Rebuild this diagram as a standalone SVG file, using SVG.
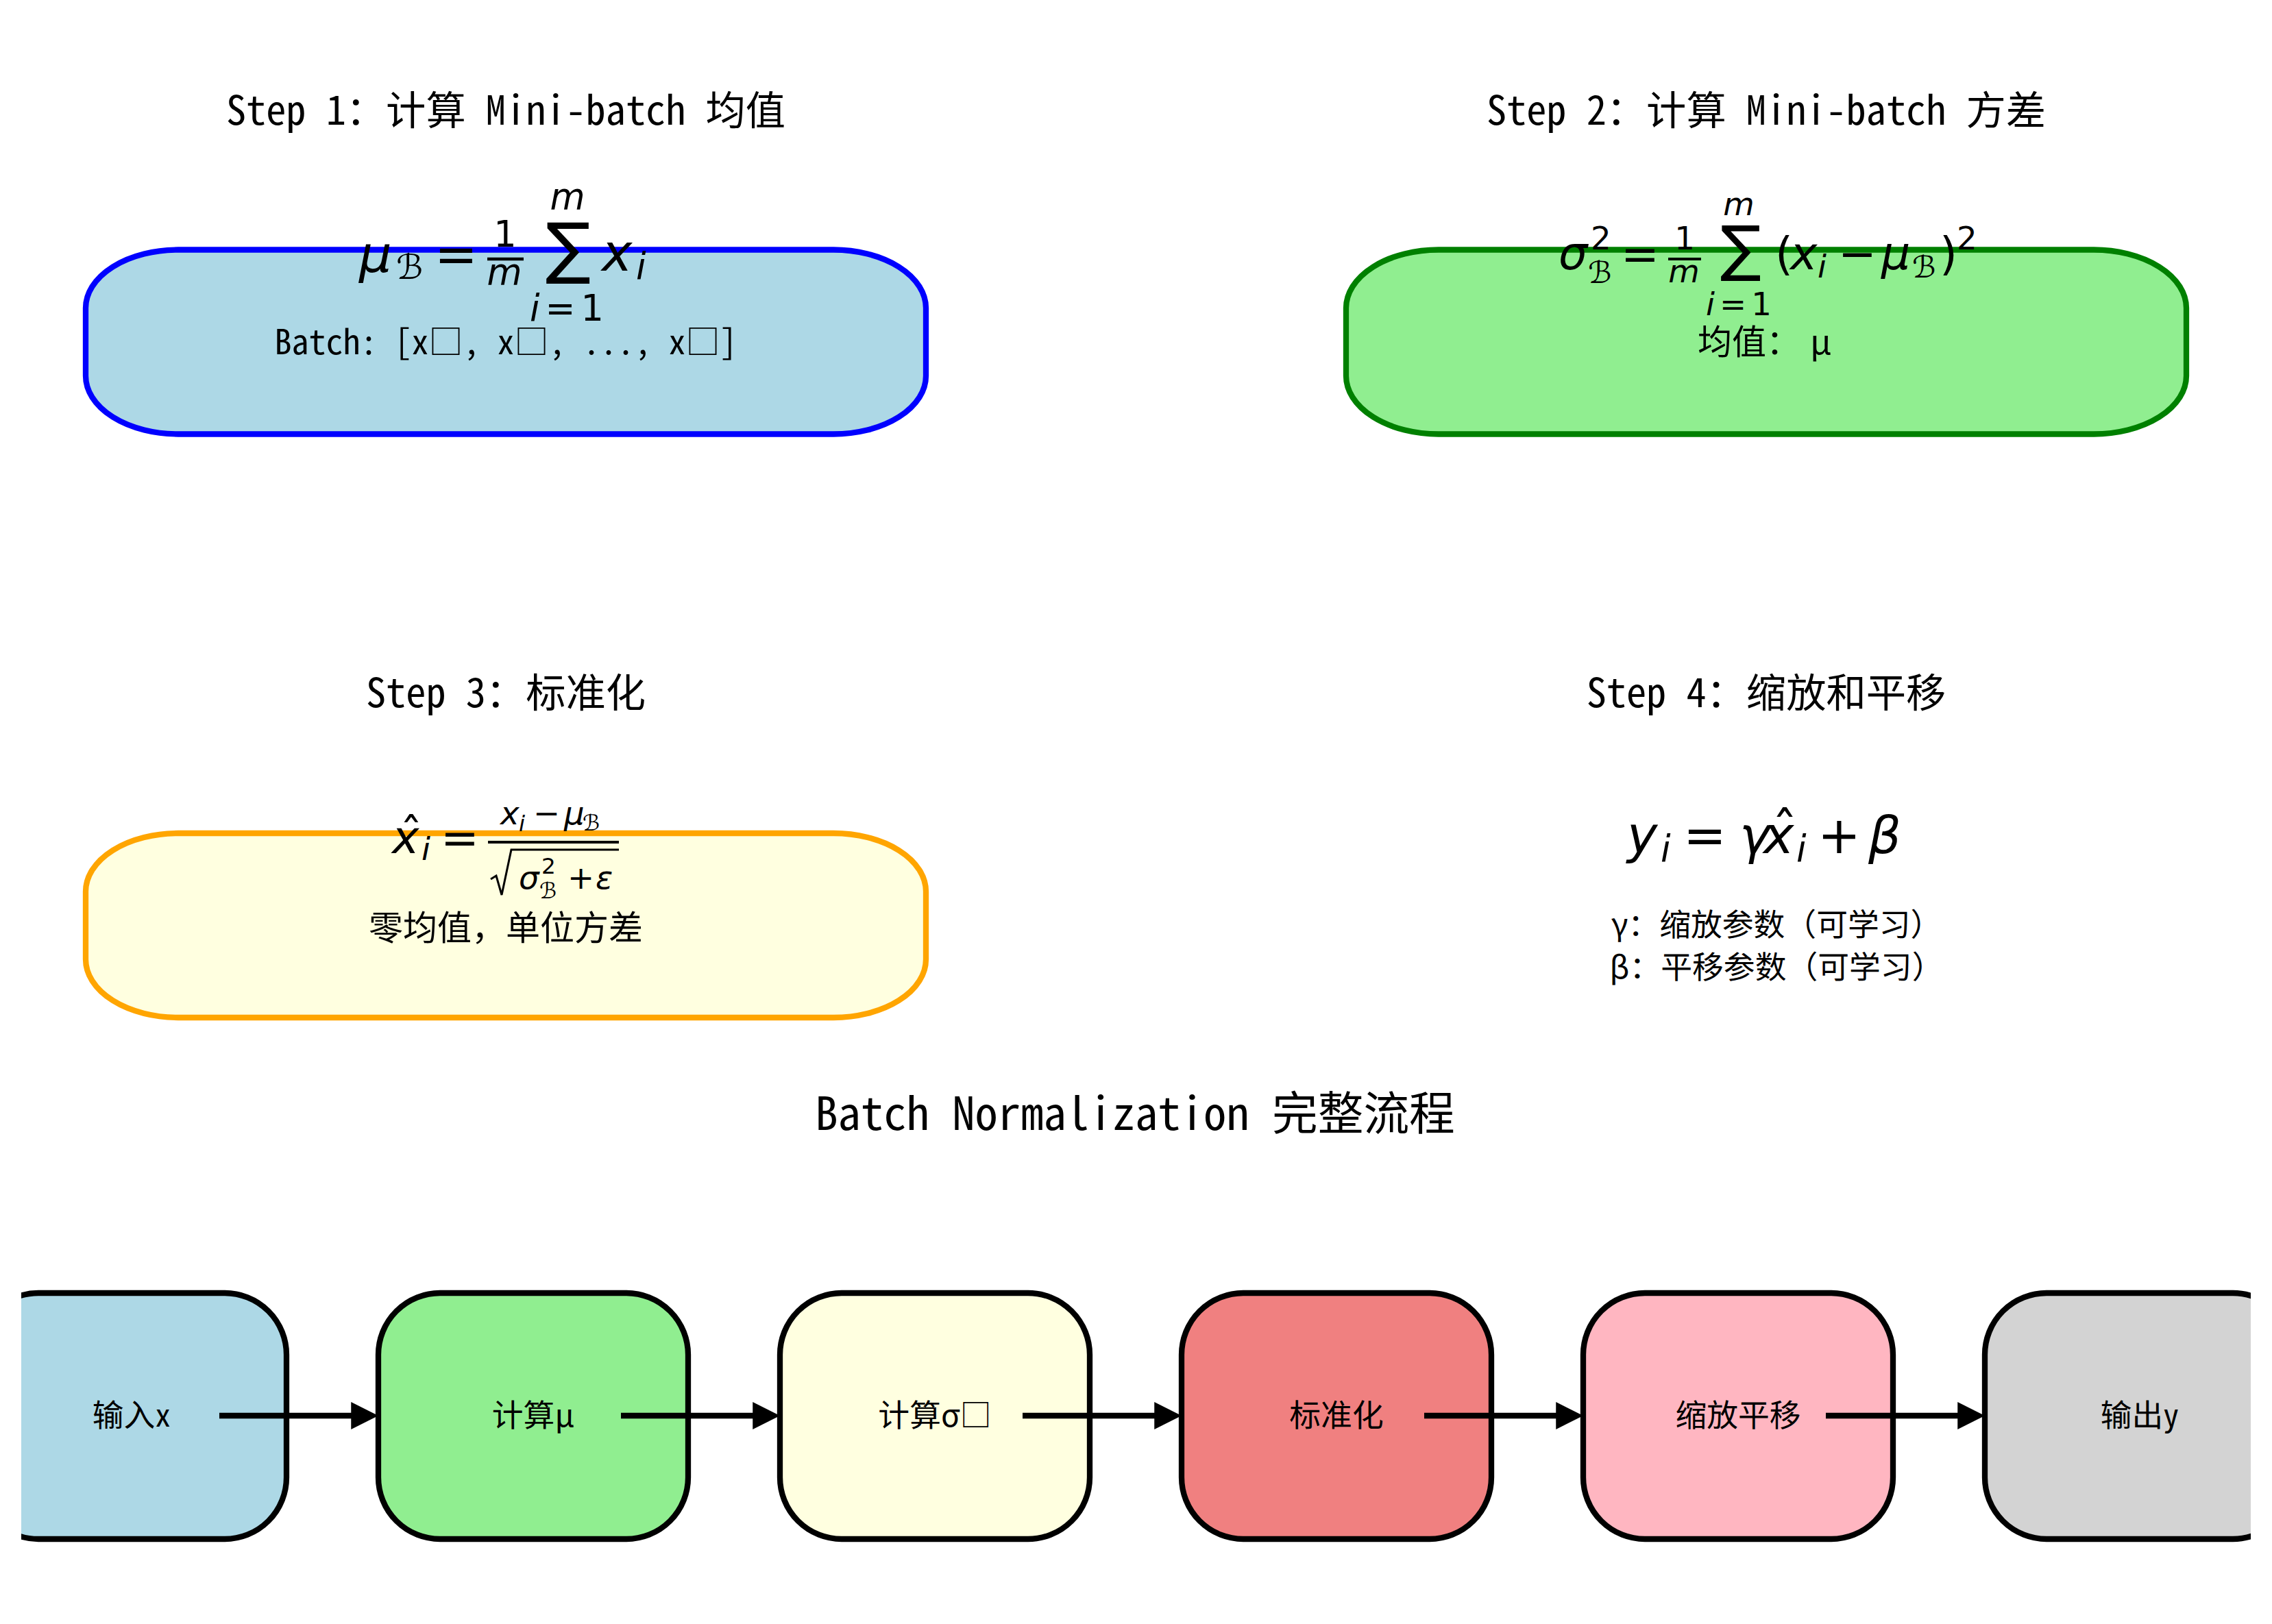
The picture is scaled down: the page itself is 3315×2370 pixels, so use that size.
<svg xmlns="http://www.w3.org/2000/svg" width="3315" height="2370" viewBox="0 0 3315 2370">
<style>
.cjk{font-family:'Noto Sans Mono CJK SC','Noto Sans CJK SC','Noto Sans CJK JP',sans-serif;fill:#000}
.m{font-family:'DejaVu Sans',sans-serif;fill:#000}
.it{font-style:italic}
.title{font-size:58.3px;text-anchor:middle}
.lbl{font-size:45.8px;text-anchor:middle}
.sub{font-size:50px;text-anchor:middle}
.fbox{stroke:#000;stroke-width:8.3}
.arrow{stroke:#000;stroke-width:8.3;fill:none;marker-end:url(#ah)}
.rule{stroke:#000;fill:none}
</style>
<defs>
<marker id="ah" markerUnits="userSpaceOnUse" markerWidth="40" markerHeight="40" viewBox="0 0 36 36" refX="16" refY="18" orient="auto">
<path d="M0,0 L36,18 L0,36 Z" fill="#000"/>
</marker>
<clipPath id="flowclip"><rect x="31" y="0" width="3253" height="2370"/></clipPath>
</defs>
<rect x="0" y="0" width="3315" height="2370" fill="#fff"/>

<!-- Step 1 -->
<g id="step1">
<text class="cjk title" x="738" y="182">Step 1：计算 Mini-batch 均值</text>
<rect x="125" y="364.5" width="1226" height="269" rx="135" ry="85" fill="#ADD8E6" stroke="#0000FF" stroke-width="8.3"/>
<g id="formula1">
<text class="m it" x="524" y="397" font-size="75">μ</text>
<text class="m" x="578" y="407" font-size="50">ℬ</text>
<text class="m" x="634" y="397" font-size="75">=</text>
<text class="m" x="737" y="360" font-size="52.5" text-anchor="middle">1</text>
<line class="rule" x1="711" y1="378" x2="764" y2="378" stroke-width="4.5"/>
<text class="m it" x="736" y="415" font-size="52.5" text-anchor="middle">m</text>
<text class="m" x="829" y="395" font-size="98" text-anchor="middle">∑</text>
<text class="m it" x="828" y="305" font-size="52.5" text-anchor="middle">m</text>
<text class="m" x="827" y="468" font-size="52.5" text-anchor="middle"><tspan class="it">i</tspan><tspan dx="8">=</tspan><tspan dx="8">1</tspan></text>
<text class="m it" x="878" y="395" font-size="75">x</text>
<text class="m it" x="928" y="407" font-size="52.5">i</text>
</g>
<text class="cjk sub" x="738" y="517">Batch: [x□, x□, ..., x□]</text>
</g>

<!-- Step 2 -->
<g id="step2">
<text class="cjk title" x="2577" y="182">Step 2：计算 Mini-batch 方差</text>
<rect x="1964" y="364.5" width="1226" height="269" rx="135" ry="85" fill="#90EE90" stroke="#008000" stroke-width="8.3"/>
<g id="formula2">
<text class="m it" x="2274" y="393" font-size="66.7">σ</text>
<text class="m" x="2321" y="364" font-size="46.7">2</text>
<text class="m" x="2317" y="413" font-size="44">ℬ</text>
<text class="m" x="2365" y="393" font-size="66.7">=</text>
<text class="m" x="2458" y="364" font-size="46.7" text-anchor="middle">1</text>
<line class="rule" x1="2434" y1="378" x2="2482" y2="378" stroke-width="4"/>
<text class="m it" x="2457" y="412" font-size="46.7" text-anchor="middle">m</text>
<text class="m" x="2540" y="393" font-size="88.7" text-anchor="middle">∑</text>
<text class="m it" x="2537" y="314" font-size="46.7" text-anchor="middle">m</text>
<text class="m" x="2537" y="460" font-size="46.7" text-anchor="middle"><tspan class="it">i</tspan><tspan dx="7">=</tspan><tspan dx="7">1</tspan></text>
<text class="m" x="2590" y="393" font-size="66.7">(</text>
<text class="m it" x="2612" y="393" font-size="66.7">x</text>
<text class="m it" x="2652" y="405" font-size="46.7">i</text>
<text class="m" x="2682" y="393" font-size="66.7">−</text>
<text class="m it" x="2745" y="393" font-size="66.7">μ</text>
<text class="m" x="2790" y="405" font-size="44">ℬ</text>
<text class="m" x="2830" y="393" font-size="66.7">)</text>
<text class="m" x="2855" y="364" font-size="46.7">2</text>
</g>
<text class="cjk" x="2477" y="517" font-size="50">均值：<tspan x="2641">μ</tspan></text>
</g>

<!-- Step 3 -->
<g id="step3">
<text class="cjk title" x="738" y="1032">Step 3：标准化</text>
<rect x="125" y="1216" width="1226" height="269" rx="135" ry="85" fill="#FFFFE0" stroke="#FFA500" stroke-width="8.3"/>
<g id="formula3">
<text class="m it" x="572" y="1245" font-size="66.7">x</text>
<text class="m" x="600" y="1241" font-size="66.7" text-anchor="middle">ˆ</text>
<text class="m it" x="615" y="1255" font-size="46.7">i</text>
<text class="m" x="643" y="1245" font-size="66.7">=</text>
<text class="m it" x="730" y="1203" font-size="46.7">x</text>
<text class="m it" x="757" y="1213" font-size="32.7">i</text>
<text class="m" x="778" y="1203" font-size="46.7">−</text>
<text class="m it" x="823" y="1203" font-size="46.7">μ</text>
<text class="m" x="850" y="1212" font-size="32">ℬ</text>
<line class="rule" x1="712" y1="1229" x2="903" y2="1229" stroke-width="4"/>
<path class="rule" d="M716,1283 L724,1278 L732,1306 L746,1240 L903,1240" stroke-width="3"/>
<text class="m it" x="757" y="1297" font-size="46.7">σ</text>
<text class="m" x="790" y="1275" font-size="32.7">2</text>
<text class="m" x="787" y="1311" font-size="32">ℬ</text>
<text class="m" x="828" y="1297" font-size="46.7">+</text>
<text class="m it" x="869" y="1297" font-size="46.7">ε</text>
</g>
<text class="cjk sub" x="738" y="1372">零均值，单位方差</text>
</g>

<!-- Step 4 -->
<g id="step4">
<text class="cjk title" x="2577" y="1032">Step 4：缩放和平移</text>
<g id="formula4">
<text class="m it" x="2374" y="1245" font-size="75">y</text>
<text class="m it" x="2423" y="1257" font-size="52.5">i</text>
<text class="m" x="2456" y="1245" font-size="75">=</text>
<text class="m it" x="2538" y="1245" font-size="75">γ</text>
<text class="m it" x="2573" y="1245" font-size="75">x</text>
<text class="m" x="2604" y="1238" font-size="75" text-anchor="middle">ˆ</text>
<text class="m it" x="2621" y="1257" font-size="52.5">i</text>
<text class="m" x="2652" y="1245" font-size="75">+</text>
<text class="m it" x="2726" y="1245" font-size="75">β</text>
</g>
<text class="cjk lbl" x="2592" y="1366">γ：缩放参数（可学习）</text>
<text class="cjk lbl" x="2592" y="1428">β：平移参数（可学习）</text>
</g>

<!-- Flow -->
<text id="flow-title" class="cjk" x="1656" y="1649" font-size="66.7" text-anchor="middle">Batch Normalization 完整流程</text>
<g id="flow" clip-path="url(#flowclip)">
<g id="n1"><rect class="fbox" x="-34" y="1887" width="452" height="359" rx="90" fill="#ADD8E6"/><text class="cjk lbl" x="192" y="2082">输入x</text></g>
<g id="n2"><rect class="fbox" x="552" y="1887" width="452" height="359" rx="90" fill="#90EE90"/><text class="cjk lbl" x="778" y="2082">计算μ</text></g>
<g id="n3"><rect class="fbox" x="1138" y="1887" width="452" height="359" rx="90" fill="#FFFFE0"/><text class="cjk lbl" x="1364" y="2082">计算σ□</text></g>
<g id="n4"><rect class="fbox" x="1724" y="1887" width="452" height="359" rx="90" fill="#F08080"/><text class="cjk lbl" x="1950" y="2082">标准化</text></g>
<g id="n5"><rect class="fbox" x="2310" y="1887" width="452" height="359" rx="90" fill="#FFB6C1"/><text class="cjk lbl" x="2536" y="2082">缩放平移</text></g>
<g id="n6"><rect class="fbox" x="2896" y="1887" width="452" height="359" rx="90" fill="#D3D3D3"/><text class="cjk lbl" x="3122" y="2082">输出y</text></g>
<g id="connectors">
<line class="arrow" x1="320" y1="2066" x2="530" y2="2066"/>
<line class="arrow" x1="906" y1="2066" x2="1116" y2="2066"/>
<line class="arrow" x1="1492" y1="2066" x2="1702" y2="2066"/>
<line class="arrow" x1="2078" y1="2066" x2="2288" y2="2066"/>
<line class="arrow" x1="2664" y1="2066" x2="2874" y2="2066"/>
</g>
</g>
</svg>
